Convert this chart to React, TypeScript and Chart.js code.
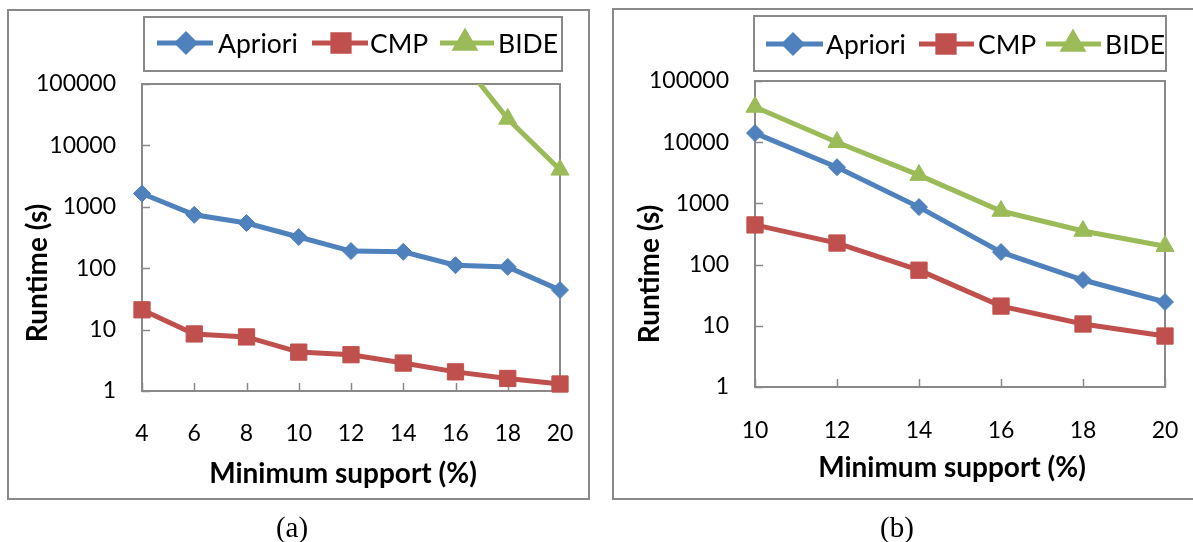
import React, { useEffect, useRef } from 'react';
import { Chart, registerables } from 'chart.js';
import { drawPoint } from 'chart.js/helpers';

Chart.register(...registerables);

// ---------- data ----------
const supportA = ['4', '6', '8', '10', '12', '14', '16', '18', '20'];
const aprioriA = [1650, 740, 545, 322, 190, 185, 112, 105, 44];
const cmpA = [21, 8.5, 7.6, 4.3, 3.9, 2.85, 2.05, 1.6, 1.3];
const bideA = [null, null, null, null, null, null, 320000, 27000, 4000];

const supportB = ['10', '12', '14', '16', '18', '20'];
const aprioriB = [14100, 3900, 870, 160, 56, 24.5];
const cmpB = [445, 225, 81, 21, 10.7, 6.8];
const bideB = [37600, 10000, 2900, 750, 354, 200];

const yTicks = [1, 10, 100, 1000, 10000, 100000];
const seriesNames = ['Apriori', 'CMP', 'BIDE'];
const xTitle = 'Minimum support (%)';
const yTitle = 'Runtime (s)';
const captions = ['(a)', '(b)'];

// ---------- styles ----------
const seriesColors = ['#4F81BD', '#C0504D', '#9BBB59'];
const seriesMarkers = ['rectRot', 'rect', 'triangle'];
const markerRadius = [8.5, 11.5, 10.5];
const lineW = 5;
const gray = '#898989';
const FONT = 'Lato, "Open Sans", "DejaVu Sans", sans-serif';
const H = 542;

type PanelCfg = {
  x: number;
  w: number;
  area: { left: number; top: number; right: number; bottom: number };
  box: { x: number; y: number; w: number; h: number };
  legendBox: { x: number; y: number; w: number; h: number };
  legendY: number;
  legendItems: { x1: number; x2: number; m: number; t: number }[];
  yTitlePos: { x: number; y: number };
  xTitlePos: { x: number; y: number };
  xPad: number;
  labels: string[];
  series: (number | null)[][];
  bideClip: boolean;
  caption: string;
  captionX: number;
};

const panels: PanelCfg[] = [
  {
    x: 0,
    w: 600,
    area: { left: 142, top: 84, right: 560, bottom: 391 },
    box: { x: 8, y: 10, w: 581, h: 489 },
    legendBox: { x: 144, y: 17, w: 418, h: 54 },
    legendY: 43,
    legendItems: [
      { x1: 157, x2: 213, m: 186, t: 218 },
      { x1: 312, x2: 368, m: 341, t: 370 },
      { x1: 440, x2: 494, m: 465, t: 498 },
    ],
    yTitlePos: { x: 38, y: 273 },
    xTitlePos: { x: 343, y: 474 },
    xPad: 29,
    labels: supportA,
    series: [aprioriA, cmpA, bideA],
    bideClip: true,
    caption: captions[0],
    captionX: 292,
  },
  {
    x: 600,
    w: 593,
    area: { left: 155, top: 81, right: 565, bottom: 387 },
    box: { x: 13, y: 9, w: 600, h: 490 },
    legendBox: { x: 154, y: 16, w: 412, h: 55 },
    legendY: 44,
    legendItems: [
      { x1: 166, x2: 223, m: 193, t: 226 },
      { x1: 319, x2: 374, m: 346, t: 378 },
      { x1: 446, x2: 501, m: 473, t: 505 },
    ],
    yTitlePos: { x: 50, y: 274 },
    xTitlePos: { x: 352, y: 468 },
    xPad: 30,
    labels: supportB,
    series: [aprioriB, cmpB, bideB],
    bideClip: false,
    caption: captions[1],
    captionX: 897,
  },
];

function makeDecor(cfg: PanelCfg) {
  return {
    id: 'decor',
    beforeDraw(chart: any) {
      const ctx = chart.ctx as CanvasRenderingContext2D;
      ctx.save();
      ctx.fillStyle = '#ffffff';
      ctx.fillRect(0, 0, chart.width, chart.height);
      ctx.strokeStyle = gray;
      ctx.lineWidth = 2;
      const b = cfg.box;
      ctx.strokeRect(b.x, b.y, b.w, b.h);
      const l = cfg.legendBox;
      ctx.strokeRect(l.x, l.y, l.w, l.h);
      ctx.restore();
    },
    beforeDatasetsDraw(chart: any) {
      const ctx = chart.ctx as CanvasRenderingContext2D;
      const { left, top, right, bottom } = chart.chartArea;
      ctx.save();
      ctx.strokeStyle = gray;
      ctx.lineWidth = 2;
      ctx.strokeRect(left, top, right - left, bottom - top);
      ctx.lineWidth = 1.5;
      const ys = chart.scales.y;
      ys.ticks.forEach((t: any) => {
        const py = Math.round(ys.getPixelForValue(t.value)) + 0.5;
        ctx.beginPath();
        ctx.moveTo(left, py);
        ctx.lineTo(left + 8, py);
        ctx.stroke();
      });
      const xs = chart.scales.x;
      xs.ticks.forEach((_t: any, i: number) => {
        const px = Math.round(xs.getPixelForTick(i)) + 0.5;
        ctx.beginPath();
        ctx.moveTo(px, bottom);
        ctx.lineTo(px, bottom - 8);
        ctx.stroke();
      });
      ctx.restore();
    },
    afterDraw(chart: any) {
      const ctx = chart.ctx as CanvasRenderingContext2D;
      ctx.save();
      // legend
      cfg.legendItems.forEach((it, i) => {
        ctx.strokeStyle = seriesColors[i];
        ctx.lineWidth = lineW;
        ctx.beginPath();
        ctx.moveTo(it.x1, cfg.legendY);
        ctx.lineTo(it.x2, cfg.legendY);
        ctx.stroke();
        ctx.fillStyle = seriesColors[i];
        ctx.strokeStyle = seriesColors[i];
        drawPoint(
          ctx,
          { pointStyle: seriesMarkers[i] as any, radius: markerRadius[i], borderWidth: 1, rotation: 0 },
          it.m,
          cfg.legendY
        );
        ctx.fillStyle = '#000';
        ctx.font = `26.5px ${FONT}`;
        ctx.textAlign = 'left';
        ctx.textBaseline = 'middle';
        ctx.fillText(seriesNames[i], it.t, cfg.legendY + 1);
      });
      // axis titles
      ctx.fillStyle = '#000';
      ctx.font = `bold 28px ${FONT}`;
      ctx.textAlign = 'center';
      ctx.textBaseline = 'middle';
      ctx.fillText(xTitle, cfg.xTitlePos.x, cfg.xTitlePos.y);
      ctx.translate(cfg.yTitlePos.x, cfg.yTitlePos.y);
      ctx.rotate(-Math.PI / 2);
      ctx.fillText(yTitle, 0, 0);
      ctx.restore();
    },
  };
}

function Panel({ cfg }: { cfg: PanelCfg }) {
  const ref = useRef<HTMLCanvasElement>(null);
  useEffect(() => {
    const a = cfg.area;
    const datasets = cfg.series.map((data, i) => ({
      label: seriesNames[i],
      data,
      borderColor: seriesColors[i],
      backgroundColor: seriesColors[i],
      borderWidth: lineW,
      pointStyle: seriesMarkers[i] as any,
      pointRadius: markerRadius[i],
      pointHoverRadius: markerRadius[i],
      pointBorderWidth: 1,
      pointBackgroundColor: seriesColors[i],
      pointBorderColor: seriesColors[i],
      tension: 0,
      spanGaps: false,
      order: 2 - i,
      clip:
        i === 2 && cfg.bideClip
          ? ({ left: false, right: false, bottom: false, top: 0 } as any)
          : (false as any),
    }));
    const chart = new Chart(ref.current!, {
      type: 'line',
      data: { labels: cfg.labels, datasets },
      plugins: [makeDecor(cfg)],
      options: {
        animation: false,
        responsive: false,
        devicePixelRatio: 1,
        layout: { padding: { left: 0, top: a.top, right: cfg.w - a.right, bottom: 0 } },
        plugins: { legend: { display: false }, tooltip: { enabled: false }, title: { display: false } },
        scales: {
          x: {
            type: 'category',
            offset: false,
            grid: { display: false, drawTicks: false },
            border: { display: false },
            ticks: {
              color: '#000',
              font: { family: FONT, size: 23 },
              padding: cfg.xPad,
              maxRotation: 0,
              autoSkip: false,
            },
            afterFit: (s: any) => {
              s.height = H - a.bottom;
              s.paddingLeft = 0;
              s.paddingRight = 0;
            },
          },
          y: {
            type: 'logarithmic',
            min: yTicks[0],
            max: yTicks[yTicks.length - 1],
            grid: { display: false, drawTicks: false },
            border: { display: false },
            ticks: {
              color: '#000',
              font: { family: FONT, size: 23 },
              padding: 26,
              callback: (v: any) => String(v),
            },
            afterBuildTicks: (s: any) => {
              s.ticks = yTicks.map((v) => ({ value: v }));
            },
            afterFit: (s: any) => {
              s.width = a.left;
              s.paddingTop = 0;
              s.paddingBottom = 0;
            },
          },
        },
      } as any,
    });
    return () => chart.destroy();
  }, [cfg]);
  return (
    <canvas
      ref={ref}
      width={cfg.w}
      height={H}
      style={{ position: 'absolute', left: cfg.x, top: 0, width: cfg.w, height: H }}
    />
  );
}

export default function App() {
  return (
    <div
      style={{
        position: 'absolute',
        left: 0,
        top: 0,
        width: 1193,
        height: H,
        background: '#fff',
        overflow: 'hidden',
      }}
    >
      {panels.map((p, i) => (
        <Panel key={i} cfg={p} />
      ))}
      {panels.map((p, i) => (
        <div
          key={'c' + i}
          style={{
            position: 'absolute',
            left: p.captionX,
            top: 511,
            transform: 'translateX(-50%)',
            fontFamily: '"Liberation Serif", "Times New Roman", serif',
            fontSize: 29,
            lineHeight: '32px',
            color: '#000',
            whiteSpace: 'nowrap',
          }}
        >
          {p.caption}
        </div>
      ))}
    </div>
  );
}
